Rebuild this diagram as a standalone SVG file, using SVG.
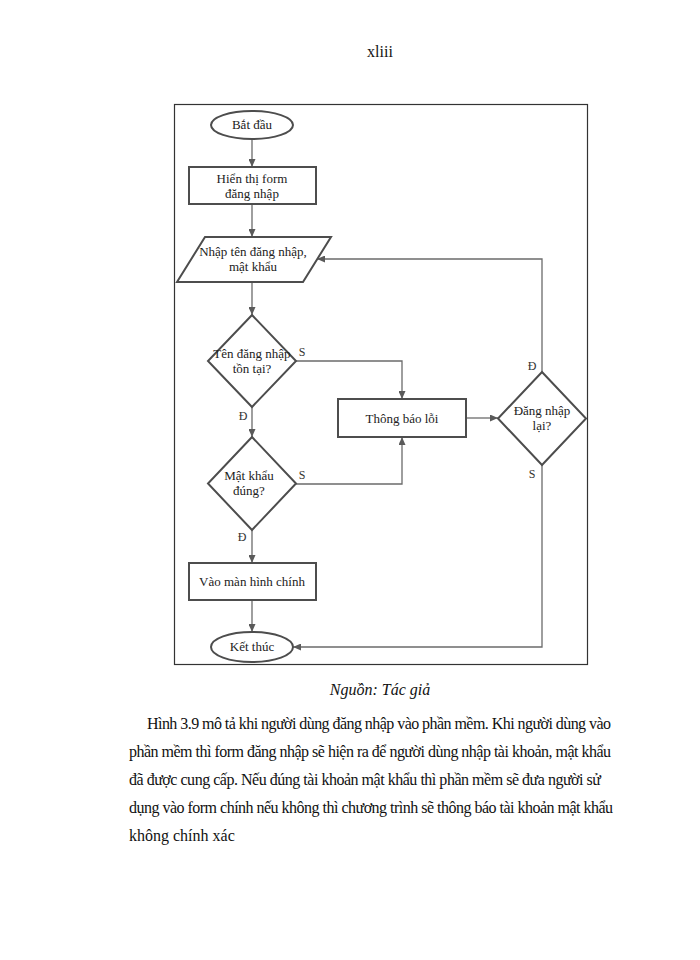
<svg xmlns="http://www.w3.org/2000/svg" width="700" height="960" viewBox="0 0 700 960">
<style>
.shape{fill:#fff;stroke:#4d4d4d;stroke-width:2}
.conn{fill:none;stroke:#6b6b6b;stroke-width:1.3}
.t{font-family:"Liberation Serif","Times New Roman",serif;font-size:13px;fill:#222;text-anchor:middle}
.lbl{font-family:"Liberation Serif","Times New Roman",serif;font-size:12px;fill:#333;text-anchor:middle}
.p{font-family:"Liberation Serif","Times New Roman",serif;font-size:16px;fill:#111}
</style>
<defs>
<marker id="arr" markerUnits="userSpaceOnUse" markerWidth="8" markerHeight="7" refX="8" refY="3.5" orient="auto">
<path d="M0,0 L8,3.5 L0,7 z" fill="#5a5a5a"/>
</marker>
</defs>
<rect width="700" height="960" fill="#fff"/>
<text x="380" y="57" class="p" font-size="15" text-anchor="middle">xliii</text>
<rect id="frame" x="174.5" y="104.5" width="413" height="560" fill="none" stroke="#333" stroke-width="1.2"/>
<g id="connectors">
<path class="conn" d="M252,139 V167" marker-end="url(#arr)"/>
<path class="conn" d="M252,204 V237" marker-end="url(#arr)"/>
<path class="conn" d="M252,282 V315" marker-end="url(#arr)"/>
<path class="conn" d="M296,361 H402 V399" marker-end="url(#arr)"/>
<path class="conn" d="M252,407 V437" marker-end="url(#arr)"/>
<path class="conn" d="M296,484 H402 V437" marker-end="url(#arr)"/>
<path class="conn" d="M466,418 H498" marker-end="url(#arr)"/>
<path class="conn" d="M542,372 V259 H317" marker-end="url(#arr)"/>
<path class="conn" d="M542,465 V647 H293" marker-end="url(#arr)"/>
<path class="conn" d="M252,530 V563" marker-end="url(#arr)"/>
<path class="conn" d="M252,600 V632" marker-end="url(#arr)"/>
<text class="lbl" x="302" y="356">S</text>
<text class="lbl" x="243" y="420">Đ</text>
<text class="lbl" x="302" y="479">S</text>
<text class="lbl" x="242" y="541">Đ</text>
<text class="lbl" x="532" y="370">Đ</text>
<text class="lbl" x="532" y="478">S</text>
</g>
<g id="start">
<ellipse class="shape" cx="252" cy="125" rx="41" ry="14"/>
<text class="t" x="252" y="129">Bắt đầu</text>
</g>
<g id="show-form">
<rect class="shape" x="189" y="167" width="127" height="37"/>
<text class="t" x="252" y="183">Hiển thị form</text>
<text class="t" x="252" y="198">đăng nhập</text>
</g>
<g id="input">
<polygon class="shape" points="205,237 331,237 303,282 177,282"/>
<text class="t" x="253" y="256">Nhập tên đăng nhập,</text>
<text class="t" x="253" y="271">mật khẩu</text>
</g>
<g id="check-user">
<polygon class="shape" points="252,315 296,361 252,407 208,361"/>
<text class="t" x="252" y="358">Tên đăng nhập</text>
<text class="t" x="252" y="373">tồn tại?</text>
</g>
<g id="check-pass">
<polygon class="shape" points="252,437 296,483.5 252,530 208,483.5"/>
<text class="t" x="249" y="480">Mật khẩu</text>
<text class="t" x="249" y="495">đúng?</text>
</g>
<g id="error">
<rect class="shape" x="338" y="399" width="128" height="38"/>
<text class="t" x="402" y="423">Thông báo lỗi</text>
</g>
<g id="retry">
<polygon class="shape" points="542,372 586,418.5 542,465 498,418.5"/>
<text class="t" x="542" y="415">Đăng nhập</text>
<text class="t" x="542" y="430">lại?</text>
</g>
<g id="main-screen">
<rect class="shape" x="189" y="563" width="127" height="37"/>
<text class="t" x="252" y="586">Vào màn hình chính</text>
</g>
<g id="end">
<ellipse class="shape" cx="252" cy="647" rx="41" ry="15"/>
<text class="t" x="252" y="651">Kết thúc</text>
</g>
<text class="p" x="380" y="695" text-anchor="middle" font-style="italic">Nguồn: Tác giả</text>
<text class="p" x="147" y="729" textLength="464" lengthAdjust="spacing">Hình 3.9 mô tả khi người dùng đăng nhập vào phần mềm. Khi người dùng vào</text>
<text class="p" x="129" y="757" textLength="482" lengthAdjust="spacing">phần mềm thì form đăng nhập  sẽ hiện ra để người dùng nhập tài khoản, mật khẩu</text>
<text class="p" x="129" y="785" textLength="472" lengthAdjust="spacing">đã được cung cấp. Nếu đúng tài khoản mật khẩu thì phần mềm sẽ đưa người sử</text>
<text class="p" x="129" y="813" textLength="484" lengthAdjust="spacing">dụng vào  form chính nếu không thì chương trình sẽ thông báo tài khoản mật khẩu</text>
<text class="p" x="129" y="841">không  chính xác</text>
</svg>
